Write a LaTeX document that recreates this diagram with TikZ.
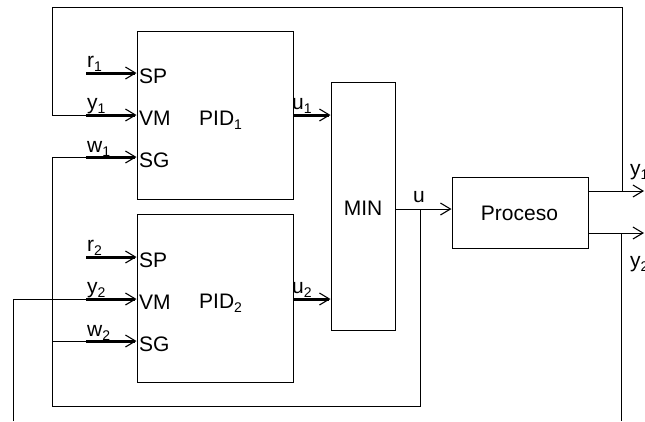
\documentclass[tikz,border=0pt]{standalone}
\usepackage{fontspec}
\setmainfont{Liberation Sans}
\usetikzlibrary{arrows.meta}
\newcommand\sbs[1]{\raisebox{-0.22em}{\fontsize{14}{14}\selectfont #1}}
\begin{document}
\begin{tikzpicture}[x=1pt,y=-1pt,
  font=\fontsize{21}{25}\selectfont,
  blk/.style={draw,line width=1pt,inner sep=0pt},
  wire/.style={line width=1pt},
  tip/.style={-{Straight Barb[length=10pt,width=12pt,line width=1.1pt]}},
  arr/.style={wire,tip},
  tarr/.style={line width=3pt,tip},
  lbl/.style={inner sep=0pt,anchor=base west},
  port/.style={inner sep=0pt,anchor=west}]
\useasboundingbox (0,0) rectangle (645,421);
\clip (0,0) rectangle (645,421);
% blocks
\node[blk,minimum width=156pt,minimum height=168pt] (pid1) at (215,115) {};
\node[blk,minimum width=156pt,minimum height=168pt] (pid2) at (215,298) {};
\node[blk,minimum width=64pt,minimum height=248pt] (min) at (363,206) {};
\node[blk,minimum width=136pt,minimum height=71pt] (proc) at (520,212.5) {};
\node[inner sep=0pt] (mint) at (363,208) {MIN};
\node[inner sep=0pt] (proct) at (519.5,213) {Proceso};
\node[lbl] (pid1t) at (199,125) {PID\sbs{1}};
\node[lbl] (pid2t) at (199,308) {PID\sbs{2}};
% port texts
\node[port] (sp1) at (139,76) {SP};
\node[port] (vm1) at (139,118) {VM};
\node[port] (sg1) at (139,160) {SG};
\node[port] (sp2) at (139,260) {SP};
\node[port] (vm2) at (139,302) {VM};
\node[port] (sg2) at (139,344) {SG};
% coordinates
\coordinate (r1s) at (86,73);
\coordinate (y1s) at (86,115);
\coordinate (w1s) at (86,157);
\coordinate (r2s) at (86,257);
\coordinate (y2s) at (86,299);
\coordinate (w2s) at (86,341);
\coordinate (top1) at (622,7);
\coordinate (top2) at (52,7);
\coordinate (fbL) at (52,115);
\coordinate (ju) at (420,209);
\coordinate (bu1) at (420,406);
\coordinate (bu2) at (52,406);
\coordinate (w1c) at (52,157);
\coordinate (w2c) at (52,341);
\coordinate (jy1) at (622,191);
\coordinate (jy2) at (621,233);
\coordinate (y1e) at (644,191);
\coordinate (y2e) at (644,233);
\coordinate (y2b) at (621,421);
\coordinate (y2l) at (13,421);
\coordinate (y2c) at (13,299);
% input arrows
\draw[tarr] (r1s) -- (pid1.west |- r1s);
\draw[tarr] (y1s) -- (pid1.west |- y1s);
\draw[tarr] (w1s) -- (pid1.west |- w1s);
\draw[tarr] (r2s) -- (pid2.west |- r2s);
\draw[tarr] (y2s) -- (pid2.west |- y2s);
\draw[tarr] (w2s) -- (pid2.west |- w2s);
% outputs of PIDs
\draw[tarr] (pid1.east |- y1s) -- (min.west |- y1s);
\draw[tarr] (pid2.east |- y2s) -- (min.west |- y2s);
\draw[arr] (min.east |- ju) -- (proc.west |- ju);
% process outputs
\draw[arr] (proc.east |- jy1) -- (y1e);
\draw[arr] (proc.east |- jy2) -- (y2e);
% feedback wires
\draw[wire] (jy1) -- (top1) -- (top2) -- (fbL) -- (y1s);
\draw[wire] (ju) -- (bu1) -- (bu2) -- (w1c) -- (w1s);
\draw[wire] (w2c) -- (w2s);
\draw[wire] (jy2) -- (y2b);
\draw[wire] (y2l) -- (y2c) -- (y2s);
% signal labels
\node[lbl] (lr1) at (87,67) {r\sbs{1}};
\node[lbl] (ly1) at (87,109) {y\sbs{1}};
\node[lbl] (lw1) at (87,152) {w\sbs{1}};
\node[lbl] (lr2) at (87,251) {r\sbs{2}};
\node[lbl] (ly2) at (87,293) {y\sbs{2}};
\node[lbl] (lw2) at (87,336) {w\sbs{2}};
\node[lbl] (lu1) at (292,109) {u\sbs{1}};
\node[lbl] (lu2) at (292,293) {u\sbs{2}};
\node[lbl] (lu) at (413,202) {u};
\node[lbl] (ly1o) at (630,175) {y\sbs{1}};
\node[lbl] (ly2o) at (630,267) {y\sbs{2}};
\end{tikzpicture}
\end{document}
